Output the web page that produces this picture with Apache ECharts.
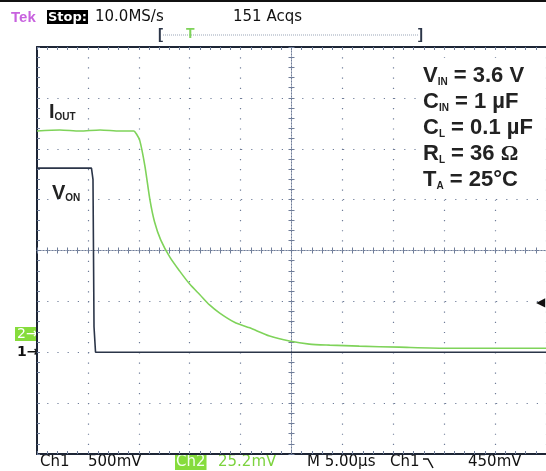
<!DOCTYPE html>
<html>
<head>
<meta charset="utf-8">
<script src="https://cdn.jsdelivr.net/npm/echarts@6/dist/echarts.min.js"></script>
<style>
  html, body { margin: 0; padding: 0; background: #fff; }
  #chart { width: 546px; height: 471px; }
</style>
</head>
<body>
<div id="chart"></div>
<script>
  // values in screen divisions, 0 = centre of the graticule (10 x 8 div)
  const vonX = [-5, -3.93, -3.90, -3.88, -3.85, 5];
  const vonY = [1.62, 1.62, 1.40, -1.50, -2.00, -2.00];

  const ioutX = [-5, -4.55, -4.16, -3.76, -3.37, -3.10, -3.04, -2.98, -2.88, -2.78, -2.69, -2.57,
    -2.39, -2.20, -2.00, -1.80, -1.61, -1.41, -1.12, -0.82, -0.43, -0.04, 0.35, 0.75, 1.33, 2.12,
    3.10, 4.08, 5];
  const ioutY = [2.35, 2.37, 2.35, 2.37, 2.35, 2.35, 2.28, 2.16, 1.66, 0.99, 0.56, 0.21,
    -0.13, -0.40, -0.66, -0.87, -1.07, -1.23, -1.41, -1.52, -1.68, -1.78, -1.84, -1.86, -1.88, -1.90,
    -1.92, -1.92, -1.92];

  const condLines = [
    ['V', 'IN', ' = 3.6 V'],
    ['C', 'IN', ' = 1 µF'],
    ['C', 'L', ' = 0.1 µF'],
    ['R', 'L', ' = 36 ', 'Ω'],
    ['T', 'A', ' = 25°C']
  ];

  const frameColor = '#1d2535';
  const dotColor = '#6f7d99';
  const green = '#7fd35a';
  const font = 'Liberation Sans';
  const scopeFont = '15px "DejaVu Sans"';

  function axis(extra) {
    return Object.assign({
      type: 'value', min: -5, max: 5, interval: 1,
      axisLabel: { show: false },
      splitLine: { show: false },
      axisTick: { show: true, inside: true, length: 3, lineStyle: { color: dotColor } },
      minorTick: { show: true, splitNumber: 5, length: 3, lineStyle: { color: dotColor } }
    }, extra);
  }

  const chart = echarts.init(document.getElementById('chart'));

  const condText = condLines.map(l =>
    '{m|' + l[0] + '}{s|' + l[1] + '}{m|' + l[2] + '}' + (l[3] ? '{o|' + l[3] + '}' : '')
  ).join('\n');

  const labelRich = {
    m: { fontFamily: font, fontWeight: 'bold', fontSize: 20, fill: '#222', verticalAlign: 'bottom', lineHeight: 24 },
    s: { fontFamily: font, fontWeight: 'bold', fontSize: 10, fill: '#222', verticalAlign: 'bottom', lineHeight: 24 }
  };

  const option = {
    animation: false,
    backgroundColor: '#fff',
    grid: { left: 37, top: 47, width: 510, height: 407 },
    xAxis: [
      axis({
        position: 'bottom',
        axisLine: { onZero: false, lineStyle: { color: frameColor, width: 2 } },
        splitLine: { show: true, lineStyle: { color: dotColor, width: 1.2, type: [1.2, 8.975] } }
      }),
      axis({
        position: 'top',
        axisLine: { onZero: false, lineStyle: { color: frameColor, width: 2 } }
      }),
      axis({
        position: 'bottom',
        axisLine: { onZero: true, onZeroAxisIndex: 0, lineStyle: { color: dotColor, width: 1, type: [1, 2] } }
      }),
      axis({
        position: 'bottom',
        axisLine: { onZero: true, onZeroAxisIndex: 0, lineStyle: { color: dotColor, width: 1, type: [1, 2] } },
        axisTick: { show: true, inside: false, length: 3, lineStyle: { color: dotColor } }
      })
    ],
    yAxis: [
      axis({
        min: -4, max: 4,
        position: 'left',
        axisLine: { onZero: false, lineStyle: { color: frameColor, width: 2 } },
        splitLine: { show: true, lineStyle: { color: dotColor, width: 1.2, type: [1.2, 9] } }
      }),
      axis({
        min: -4, max: 4,
        position: 'left',
        axisLine: { onZero: true, onZeroAxisIndex: 0, lineStyle: { color: dotColor, width: 1, type: [1, 2] } }
      }),
      axis({
        min: -4, max: 4,
        position: 'left',
        axisLine: { onZero: true, onZeroAxisIndex: 0, lineStyle: { color: dotColor, width: 1, type: [1, 2] } },
        axisTick: { show: true, inside: false, length: 3, lineStyle: { color: dotColor } }
      })
    ],
    series: [
      {
        name: 'VON', type: 'line', xAxisIndex: 0, yAxisIndex: 0,
        showSymbol: false, symbol: 'none',
        lineStyle: { color: '#2b3548', width: 1.6 },
        data: vonX.map((x, i) => [x, vonY[i]])
      },
      {
        name: 'IOUT', type: 'line', xAxisIndex: 0, yAxisIndex: 0,
        showSymbol: false, symbol: 'none',
        smooth: 0.25,
        lineStyle: { color: green, width: 1.6 },
        data: ioutX.map((x, i) => [x, ioutY[i]])
      }
    ],
    graphic: [
      // figure top rule
      { type: 'rect', shape: { x: 0, y: 0, width: 546, height: 2 }, style: { fill: '#111' } },
      // header
      { type: 'text', x: 11, y: 10, style: { text: 'Tek', font: 'bold 15px "Liberation Sans"', fill: '#c862df' } },
      { type: 'text', x: 47, y: 10, style: { text: 'Stop:', font: 'bold 13px "DejaVu Sans"', fill: '#fff', backgroundColor: '#000', padding: [1, 1, 0, 1] } },
      { type: 'text', x: 95, y: 10, style: { text: '10.0MS/s', font: scopeFont, fill: '#111' } },
      { type: 'text', x: 233, y: 10, style: { text: '151 Acqs', font: scopeFont, fill: '#111' } },
      { type: 'line', shape: { x1: 163, y1: 35, x2: 418, y2: 35 }, style: { stroke: '#9aa6b8', lineWidth: 1, lineDash: [1, 1] } },
      { type: 'text', x: 158, y: 27, style: { text: '[', font: 'bold 15px "Liberation Sans"', fill: '#2b3548' } },
      { type: 'text', x: 418, y: 27, style: { text: ']', font: 'bold 15px "Liberation Sans"', fill: '#2b3548' } },
      { type: 'text', x: 186, y: 27, style: { text: 'T', font: 'bold 14px "Liberation Sans"', fill: green } },
      // trace labels
      { type: 'text', x: 49, y: 98, z: 10, style: { text: '{m|I}{s|OUT}', rich: labelRich } },
      { type: 'text', x: 52, y: 179, z: 10, style: { text: '{m|V}{s|ON}', rich: labelRich } },
      // conditions box
      { type: 'rect', z: 9, shape: { x: 417, y: 58, width: 122, height: 135 }, style: { fill: '#fff' } },
      {
        type: 'text', x: 423, y: 61, z: 10,
        style: {
          text: condText,
          rich: {
            m: { fontFamily: font, fontWeight: 'bold', fontSize: 22, fill: '#222', verticalAlign: 'bottom', lineHeight: 26 },
            s: { fontFamily: font, fontWeight: 'bold', fontSize: 10, fill: '#222', verticalAlign: 'bottom', lineHeight: 26 },
            o: { fontFamily: 'Liberation Serif', fontWeight: 'bold', fontSize: 22, fill: '#222', verticalAlign: 'bottom', lineHeight: 26 }
          }
        }
      },
      // channel markers
      { type: 'rect', shape: { x: 15, y: 327, width: 22, height: 14 }, style: { fill: '#86dc3c' } },
      { type: 'text', x: 17, y: 327, style: { text: '2→', font: '14px "DejaVu Sans"', fill: '#fff' } },
      { type: 'text', x: 17, y: 345, style: { text: '1→', font: 'bold 14px "DejaVu Sans"', fill: '#111' } },
      { type: 'text', x: 536, y: 297, style: { text: '◀', font: '12px "DejaVu Sans"', fill: '#111' } },
      // footer
      { type: 'text', x: 40, y: 455, style: { text: 'Ch1', font: scopeFont, fill: '#111' } },
      { type: 'text', x: 88, y: 455, style: { text: '500mV', font: scopeFont, fill: '#111' } },
      { type: 'text', x: 175, y: 455, style: { text: 'Ch2', font: scopeFont, fill: '#f4fff0', backgroundColor: '#86dc3c', padding: [0, 1, 0, 1] } },
      { type: 'text', x: 218, y: 455, style: { text: '25.2mV', font: scopeFont, fill: '#7cd33e' } },
      { type: 'text', x: 307, y: 455, style: { text: 'M 5.00µs', font: scopeFont, fill: '#111' } },
      { type: 'text', x: 390, y: 455, style: { text: 'Ch1', font: scopeFont, fill: '#111' } },
      { type: 'polyline', shape: { points: [[423, 459], [428, 459], [433, 468]] }, style: { stroke: '#111', lineWidth: 1.5, fill: null } },
      { type: 'text', x: 468, y: 455, style: { text: '450mV', font: scopeFont, fill: '#111' } }
    ]
  };

  chart.setOption(option);
</script>
</body>
</html>
